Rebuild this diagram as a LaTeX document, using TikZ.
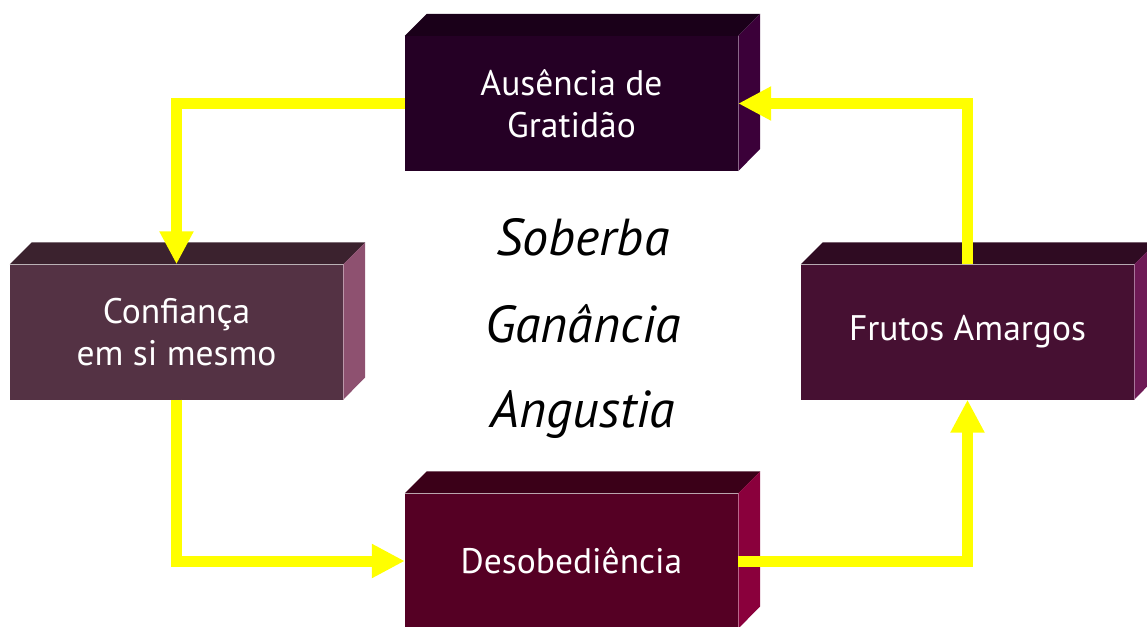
\documentclass[tikz,border=0pt]{standalone}
\usepackage{fontspec}
\setmainfont{PT Sans}
\usetikzlibrary{arrows.meta}
\definecolor{topF}{HTML}{250025}\definecolor{topT}{HTML}{1A0019}\definecolor{topS}{HTML}{3B0039}
\definecolor{lefF}{HTML}{543244}\definecolor{lefT}{HTML}{3B222E}\definecolor{lefS}{HTML}{8E5170}
\definecolor{rigF}{HTML}{461032}\definecolor{rigT}{HTML}{2F0B22}\definecolor{rigS}{HTML}{6E1A55}
\definecolor{botF}{HTML}{550024}\definecolor{botT}{HTML}{3B0018}\definecolor{botS}{HTML}{8A003C}
\definecolor{arrowyellow}{HTML}{FFFF00}
\tikzset{
  box/.style={minimum width=333pt, minimum height=135pt, inner sep=0pt, text=white,
    font=\fontsize{35.5}{42}\selectfont, align=center},
  flow/.style={draw=arrowyellow, line width=11pt, line join=miter,
    -{Triangle[length=33pt,width=32pt,fill=arrowyellow]}},
  central/.style={font=\fontsize{52}{60}\selectfont\itshape, text=black, anchor=base}
}
\newcommand{\cube}[4]{%
  \fill[#3] (#1.north west) -- ++(22pt,22pt) -- ++(333pt,0) -- ([xshift=22pt,yshift=22pt]#1.north east) -- (#1.north east) -- cycle;
  \fill[#4] (#1.north east) -- ++(22pt,22pt) -- ++(0,-135pt) -- (#1.south east) -- cycle;
  \draw[#4!60!white, line width=0.8pt] (#1.north east) -- (#1.south east);
}
\begin{document}
\begin{tikzpicture}[x=1pt,y=-1pt]
\useasboundingbox (0,0) rectangle (1147,626);
\clip (0,0) rectangle (1147,626);
\node[box, fill=topF] (aus) at (571.5,103.5) {Ausência de\\Gratidão};
\cube{aus}{topF}{topT}{topS}
\node[box, fill=lefF] (conf) at (176.5,332) {Confiança\\em si mesmo};
\cube{conf}{lefF}{lefT}{lefS}
\node[box, fill=rigF] (frut) at (967.5,332) {Frutos Amargos};
\cube{frut}{rigF}{rigT}{rigS}
\node[box, fill=botF] (deso) at (571.5,561) {Desobediência};
\cube{deso}{botF}{botT}{botS}
\node[central] (sob) at (583,255) {Soberba};
\node[central] (gan) at (583,342) {Ganância};
\node[central] (ang) at (583,427) {Angustia};
\draw[flow] (aus.west) -| (conf.north);
\draw[flow] (conf.south) |- (deso.west);
\draw[flow] (deso.east) -| (frut.south);
\draw[flow] (frut.north) |- (aus.east);
\end{tikzpicture}
\end{document}
